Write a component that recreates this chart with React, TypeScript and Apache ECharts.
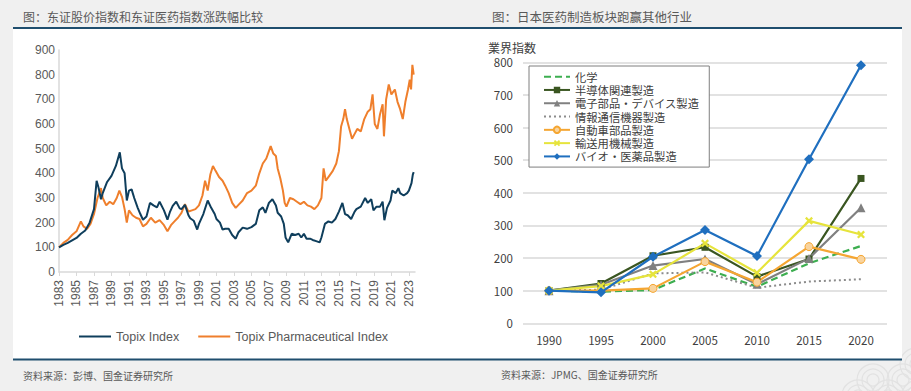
import React, { useEffect, useRef } from "react";
import * as echarts from "echarts";

// ---------- Left chart data (Topix vs Topix Pharmaceutical, rebased 100 = 1983) ----------
const topixYears = [
  1983.0, 1983.5, 1984.0, 1984.5, 1985.0, 1985.5, 1986.0, 1986.5, 1987.0, 1987.3, 1987.5, 1987.8,
  1988.0, 1988.5, 1989.0, 1989.5, 1989.95, 1990.2, 1990.5, 1990.75, 1991.0, 1991.3, 1991.6, 1992.0,
  1992.3, 1992.6, 1993.0, 1993.4, 1993.8, 1994.2, 1994.5, 1995.0, 1995.4, 1995.7, 1996.0, 1996.4,
  1996.8, 1997.0, 1997.4, 1997.8, 1998.0, 1998.4, 1998.8, 1999.0, 1999.5, 2000.0, 2000.4, 2000.8,
  2001.0, 2001.4, 2001.7, 2002.0, 2002.4, 2002.8, 2003.2, 2003.5, 2004.0, 2004.5, 2005.0, 2005.5,
  2005.9, 2006.3, 2006.6, 2007.0, 2007.4, 2007.8, 2008.0, 2008.4, 2008.7, 2008.9, 2009.2, 2009.6,
  2010.0, 2010.4, 2010.7, 2011.0, 2011.3, 2011.7, 2012.0, 2012.4, 2012.8, 2013.0, 2013.4, 2013.8,
  2014.2, 2014.6, 2015.0, 2015.4, 2015.7, 2016.0, 2016.4, 2016.8, 2017.0, 2017.5, 2018.0, 2018.3,
  2018.7, 2018.95, 2019.3, 2019.7, 2020.0, 2020.2, 2020.5, 2020.9, 2021.1, 2021.5, 2021.8, 2022.0,
  2022.4, 2022.8, 2023.0, 2023.3, 2023.45, 2023.55,
];
const topixValues = [
  100, 110, 118, 128, 138, 155, 168, 200, 255, 370, 345, 295,
  320, 365, 390, 430, 485, 420, 400, 290, 330, 335, 300, 260,
  235, 212, 225, 280, 270, 262, 285, 250, 212, 245, 268, 285,
  258, 255, 272, 230, 218, 208, 172, 195, 235, 290, 260, 235,
  215, 200, 172, 175, 175, 150, 135, 160, 180, 175, 182, 195,
  250, 262, 240, 280, 295, 270, 240, 225, 195, 140, 120, 155,
  150, 155, 140, 155, 135, 135, 130, 125, 120, 140, 195, 205,
  200, 215, 245, 280, 235, 230, 215, 245, 255, 265, 300, 280,
  295, 250, 265, 265, 285, 210, 260, 290, 330, 320, 340, 320,
  310, 320, 330, 360, 395, 405,
];

const pharmaYears = [
  1983.0, 1983.5, 1984.0, 1984.5, 1985.0, 1985.5, 1985.8, 1986.2, 1986.6, 1987.0, 1987.4, 1987.8,
  1988.0, 1988.4, 1988.8, 1989.2, 1989.6, 1989.9, 1990.2, 1990.5, 1990.75, 1991.0, 1991.4, 1991.8,
  1992.2, 1992.6, 1993.0, 1993.5, 1994.0, 1994.5, 1995.0, 1995.4, 1995.8, 1996.2, 1996.6, 1997.0,
  1997.4, 1997.8, 1998.2, 1998.6, 1999.0, 1999.4, 1999.7, 2000.0, 2000.3, 2000.6, 2000.9, 2001.3,
  2001.7, 2002.0, 2002.4, 2002.8, 2003.2, 2003.6, 2004.0, 2004.5, 2005.0, 2005.5, 2005.9, 2006.3,
  2006.7, 2007.0, 2007.2, 2007.5, 2007.8, 2008.0, 2008.3, 2008.6, 2008.8, 2009.0, 2009.4, 2009.8,
  2010.2, 2010.6, 2011.0, 2011.4, 2011.8, 2012.2, 2012.6, 2013.0, 2013.25, 2013.5, 2013.9, 2014.3,
  2014.7, 2015.0, 2015.25, 2015.5, 2015.7, 2015.9, 2016.2, 2016.5, 2016.8, 2017.1, 2017.5, 2017.9,
  2018.3, 2018.6, 2018.85, 2019.1, 2019.4, 2019.7, 2020.0, 2020.15, 2020.4, 2020.7, 2021.0, 2021.4,
  2021.7, 2022.0, 2022.3, 2022.6, 2022.9, 2023.1, 2023.25, 2023.4, 2023.55,
];
const pharmaValues = [
  100, 118, 130, 150, 165, 205, 185, 175, 195, 235, 300, 340,
  300, 270, 285, 275, 300, 330, 305, 255, 200, 250, 230, 220,
  215, 185, 195, 220, 200, 210, 190, 165, 190, 205, 220, 240,
  275, 245, 250, 255, 270, 310, 370, 330, 395, 430, 410, 385,
  370, 350, 320, 280, 260, 275, 290, 320, 330, 350, 400, 440,
  460, 490, 510, 480, 470, 420, 380, 330, 280, 265, 300, 295,
  285, 275, 285, 270, 265, 255, 270, 300, 420, 370, 390, 410,
  440, 490, 590, 620, 660, 620, 580, 540, 560, 580, 570, 620,
  650, 660, 720, 600, 580, 640, 680, 550, 700, 760, 720, 740,
  690, 660, 620, 690, 740, 780, 740, 840, 800,
];
const leftBaseYear = 1983;
const leftNames = ["Topix Index", "Topix Pharmaceutical Index"];

// ---------- Right chart data (industry index, 1990 = 100) ----------
const jpYears = ["1990", "1995", "2000", "2005", "2010", "2015", "2020"];
const chemical = [100, 97, 102, 168, 112, 184, 237];
const semiconductor = [100, 122, 207, 233, 143, 197, 444];
const electronics = [100, 118, 177, 197, 120, 199, 354];
const infoComm = [100, 103, 153, 156, 109, 128, 135];
const autoParts = [100, 100, 107, 189, 126, 235, 196];
const transport = [100, 114, 150, 245, 155, 314, 272];
const bioPharma = [100, 95, 204, 286, 206, 503, 791];

const jpNames = [
  "化学",
  "半導体関連製造",
  "電子部品・デバイス製造",
  "情報通信機器製造",
  "自動車部品製造",
  "輸送用機械製造",
  "バイオ・医薬品製造",
];
const jpNoMarker = ["化学", "情報通信機器製造"];

const CN = "'Noto Sans CJK SC', sans-serif";
const JP = "'Noto Sans CJK JP', sans-serif";
const AR = "'Liberation Sans', Arial, sans-serif";

const xShape =
  "path://M0,2L2,0L5,3L8,0L10,2L7,5L10,8L8,10L5,7L2,10L0,8L3,5Z";

export default function App() {
  const ref = useRef<HTMLDivElement>(null);
  useEffect(() => {
    document.body.style.margin = "0";
    if (!ref.current) return;
    const chart = echarts.init(ref.current, undefined, { renderer: "svg" });

    const toPairs = (ys: number[], vs: number[]) => ys.map((y, i) => [y - leftBaseYear, vs[i]]);

    const jpSeries = (name: string, data: number[], color: string, opts: any) => ({
      type: "line",
      name,
      xAxisIndex: 1,
      yAxisIndex: 1,
      data,
      color,
      lineStyle: { color, width: 2.2, ...(opts.lineStyle || {}) },
      itemStyle: { color, ...(opts.itemStyle || {}) },
      symbol: opts.symbol || "none",
      symbolSize: opts.symbolSize || 7,
      showSymbol: opts.symbol ? true : false,
      z: opts.z || 2,
    });

    const line = (x1: number, y1: number, x2: number, y2: number, stroke: string, w: number) => ({
      type: "line",
      shape: { x1, y1, x2, y2 },
      style: { stroke, lineWidth: w },
      silent: true,
    });

    const deco: any[] = [];
    const decoCenters = [
      [858, 396], [888, 396], [918, 396], [873, 380], [903, 380], [916, 364],
    ];
    decoCenters.forEach(([cx, cy]) => {
      [16, 11, 6].forEach((r) => {
        deco.push({
          type: "circle",
          shape: { cx, cy, r },
          style: { fill: null, stroke: "#e2e2e2", lineWidth: 1.2 },
          z: -20,
          silent: true,
        });
      });
    });

    chart.setOption({
      animation: false,
      backgroundColor: "#f0f0f0",
      graphic: [
        ...deco,
        {
          type: "rect",
          shape: { x: 13, y: 29, width: 889, height: 330 },
          style: { fill: "#ffffff" },
          z: -10,
          silent: true,
        },
        line(13, 28, 902, 28, "#1f4e6e", 2),
        line(13, 359.5, 902, 359.5, "#1f4e6e", 2),
        {
          type: "text",
          x: 23,
          y: 16,
          style: {
            text: "图：东证股价指数和东证医药指数涨跌幅比较",
            font: `12px ${CN}`,
            fill: "#595959",
            textVerticalAlign: "middle",
          },
        },
        {
          type: "text",
          x: 492,
          y: 16,
          style: {
            text: "图：日本医药制造板块跑赢其他行业",
            font: `12.5px ${CN}`,
            fill: "#595959",
            textVerticalAlign: "middle",
          },
        },
        {
          type: "text",
          x: 23,
          y: 375,
          style: {
            text: "资料来源：彭博、国金证券研究所",
            font: `10px ${CN}`,
            fill: "#595959",
            textVerticalAlign: "middle",
          },
        },
        {
          type: "text",
          x: 501,
          y: 374,
          style: {
            text: "资料来源：JPMG、国金证券研究所",
            font: `10px ${CN}`,
            fill: "#595959",
            textVerticalAlign: "middle",
          },
        },
        {
          type: "text",
          x: 488,
          y: 47,
          style: {
            text: "業界指数",
            font: `12px ${JP}`,
            fill: "#404040",
            textVerticalAlign: "middle",
          },
        },
      ],
      grid: [
        { left: 59, top: 50, width: 356, height: 222 },
        { left: 523, top: 62.3, width: 364, height: 261 },
      ],
      xAxis: [
        {
          type: "value",
          gridIndex: 0,
          min: 0,
          max: 40.7,
          interval: 2,
          splitLine: { show: false },
          axisLine: { show: true, lineStyle: { color: "#d9d9d9", width: 1.5 } },
          axisTick: { show: true, length: 4, lineStyle: { color: "#d9d9d9" } },
          axisLabel: {
            rotate: 90,
            margin: 8,
            color: "#595959",
            fontSize: 12,
            fontFamily: AR,
            showMaxLabel: false,
            formatter: (v: number) =>
              Math.abs(v - Math.round(v)) < 1e-6 && Math.round(v) % 2 === 0
                ? String(Math.round(v) + leftBaseYear)
                : "",
          },
        },
        {
          type: "category",
          gridIndex: 1,
          data: jpYears,
          boundaryGap: true,
          axisLine: { show: false },
          axisTick: { show: false },
          axisLabel: { color: "#404040", fontSize: 11.5, fontFamily: JP, margin: 11 },
        },
      ],
      yAxis: [
        {
          type: "value",
          gridIndex: 0,
          min: 0,
          max: 900,
          interval: 100,
          splitLine: { show: false },
          axisLine: { show: true, lineStyle: { color: "#d9d9d9", width: 1.5 } },
          axisTick: { show: false },
          axisLabel: { color: "#595959", fontSize: 12, fontFamily: AR, margin: 4 },
        },
        {
          type: "value",
          gridIndex: 1,
          min: 0,
          max: 800,
          interval: 100,
          splitLine: { show: true, lineStyle: { color: "#d9d9d9", width: 1.5 } },
          axisLine: { show: false },
          axisTick: { show: false },
          axisLabel: { color: "#404040", fontSize: 11.5, fontFamily: JP, margin: 10 },
        },
      ],
      legend: [
        {
          data: leftNames.map((n) => ({ name: n, itemStyle: { opacity: 0 } })),
          left: 73,
          top: 325,
          itemWidth: 32,
          itemHeight: 12,
          itemGap: 18,
          textStyle: { color: "#595959", fontSize: 12.5, fontFamily: AR },
        },
        {
          data: jpNames.map((n) =>
            jpNoMarker.includes(n) ? { name: n, itemStyle: { opacity: 0 } } : { name: n }
          ),
          orient: "vertical",
          left: 529,
          top: 66,
          padding: [5, 10, 5, 14],
          itemGap: 2,
          itemWidth: 26,
          itemHeight: 8,
          borderColor: "#7f7f7f",
          borderWidth: 1,
          backgroundColor: "#ffffff",
          textStyle: { color: "#404040", fontSize: 11.3, lineHeight: 11, fontFamily: JP },
        },
      ],
      series: [
        {
          type: "line",
          name: leftNames[0],
          xAxisIndex: 0,
          yAxisIndex: 0,
          data: toPairs(topixYears, topixValues),
          symbol: "none",
          color: "#0f3e5c",
          lineStyle: { color: "#0f3e5c", width: 2 },
          z: 3,
        },
        {
          type: "line",
          name: leftNames[1],
          xAxisIndex: 0,
          yAxisIndex: 0,
          data: toPairs(pharmaYears, pharmaValues),
          symbol: "none",
          color: "#ef7f2c",
          lineStyle: { color: "#ef7f2c", width: 2 },
          z: 2,
        },
        jpSeries(jpNames[0], chemical, "#3dae50", { lineStyle: { type: [7, 4] } }),
        jpSeries(jpNames[1], semiconductor, "#3a5621", { symbol: "rect", symbolSize: 7 }),
        jpSeries(jpNames[2], electronics, "#808080", { symbol: "triangle", symbolSize: 9 }),
        jpSeries(jpNames[3], infoComm, "#8c8c8c", { lineStyle: { type: [2, 3], width: 2 } }),
        jpSeries(jpNames[4], autoParts, "#f5a632", {
          symbol: "circle",
          symbolSize: 8,
          itemStyle: { color: "#f9d49e", borderColor: "#f5a632", borderWidth: 1 },
        }),
        jpSeries(jpNames[5], transport, "#e6e43c", { symbol: xShape, symbolSize: 8 }),
        jpSeries(jpNames[6], bioPharma, "#1f6fbf", { symbol: "diamond", symbolSize: 10, z: 5 }),
      ],
    });
    return () => chart.dispose();
  }, []);
  return <div ref={ref} style={{ width: 911, height: 391 }} />;
}
